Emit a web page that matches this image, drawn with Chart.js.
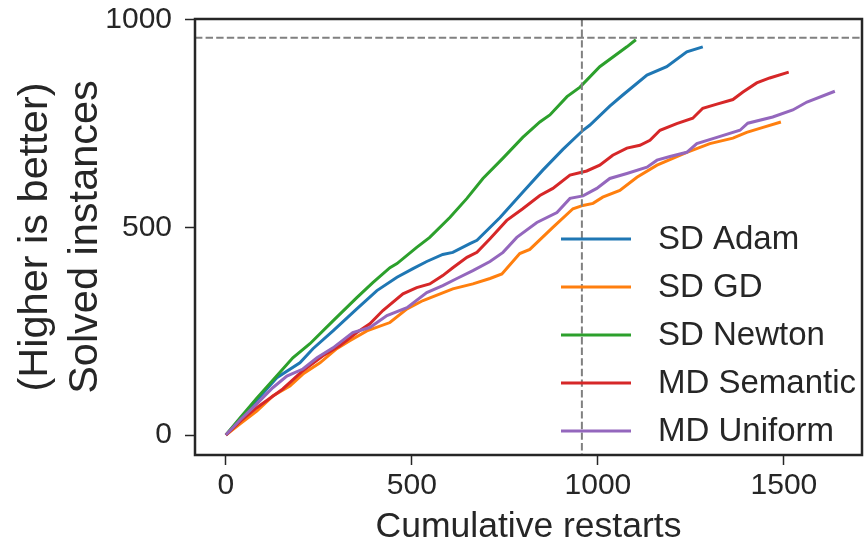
<!DOCTYPE html>
<html>
<head>
<meta charset="utf-8">
<script src="https://cdn.jsdelivr.net/npm/chart.js@4.4.1/dist/chart.umd.min.js"></script>
<style>
  html, body { margin: 0; padding: 0; background: #ffffff; }
  #c { display: block; }
</style>
</head>
<body>
<canvas id="c" width="866" height="545"></canvas>
<script>
// ---------------- data ----------------
const seriesLabels = ["SD Adam", "SD GD", "SD Newton", "MD Semantic", "MD Uniform"];
const seriesColors = ["#1f77b4", "#ff7f0e", "#2ca02c", "#d62728", "#9467bd"];

const adamX = [0, 40, 83, 137, 199, 234, 288, 352, 406, 460, 503, 540, 583, 610, 656, 675, 737, 798, 852, 906, 960, 978, 1032, 1067, 1132, 1185, 1239, 1282];
const adamY = [0, 40, 84, 138, 174, 208, 251, 304, 348, 380, 401, 418, 435, 440, 461, 469, 524, 585, 638, 688, 734, 746, 792, 819, 867, 887, 923, 935];

const gdX = [0, 40, 83, 126, 172, 207, 253, 298, 333, 379, 441, 487, 530, 610, 664, 710, 742, 790, 817, 879, 933, 960, 987, 1013, 1059, 1105, 1159, 1239, 1301, 1363, 1400, 1444, 1492];
const gdY = [0, 28, 58, 94, 118, 147, 174, 208, 227, 251, 271, 304, 324, 352, 364, 377, 388, 437, 447, 500, 545, 553, 558, 573, 589, 621, 650, 681, 702, 715, 729, 741, 754];

const newtonX = [0, 38, 83, 137, 180, 226, 288, 352, 395, 441, 460, 513, 548, 602, 648, 691, 745, 798, 844, 871, 917, 952, 1005, 1078, 1102];
const newtonY = [0, 41, 89, 143, 186, 220, 275, 331, 367, 403, 413, 452, 476, 524, 570, 618, 667, 717, 754, 771, 815, 838, 887, 935, 952];

const semanticX = [0, 40, 83, 153, 207, 261, 306, 352, 387, 422, 476, 513, 548, 583, 610, 648, 675, 710, 755, 798, 844, 879, 925, 970, 1005, 1040, 1078, 1113, 1140, 1167, 1212, 1255, 1282, 1320, 1363, 1390, 1427, 1462, 1513];
const semanticY = [0, 34, 66, 111, 155, 191, 215, 247, 268, 300, 340, 355, 364, 384, 403, 428, 440, 473, 517, 545, 577, 594, 626, 636, 650, 674, 691, 698, 710, 734, 750, 763, 787, 797, 808, 826, 848, 860, 874];

const uniformX = [0, 40, 83, 126, 164, 207, 245, 288, 341, 387, 433, 487, 540, 583, 621, 664, 710, 745, 782, 836, 890, 925, 960, 997, 1032, 1078, 1132, 1159, 1194, 1239, 1266, 1320, 1382, 1403, 1470, 1524, 1562, 1637];
const uniformY = [0, 38, 75, 114, 142, 159, 186, 210, 247, 259, 288, 307, 343, 360, 377, 396, 418, 440, 476, 512, 536, 570, 576, 594, 618, 630, 645, 662, 671, 681, 702, 717, 734, 751, 766, 783, 802, 828];

const xTicks = [0, 500, 1000, 1500];
const yTicks = [0, 500, 1000];
const refTotal = 957;           // dashed reference lines (x and y)
const xRange = [-83, 1710];
const yRange = [-48, 1002];

// ---------------- build ----------------
const FONT = "'Liberation Sans', Arial, 'DejaVu Sans', sans-serif";
const TXT = "#262626";
const allX = [adamX, gdX, newtonX, semanticX, uniformX];
const allY = [adamY, gdY, newtonY, semanticY, uniformY];

const datasets = seriesLabels.map((lab, i) => ({
  label: lab,
  data: allX[i].map((x, j) => ({ x: x, y: allY[i][j] })),
  borderColor: seriesColors[i],
  backgroundColor: seriesColors[i],
  borderWidth: 3,
  pointRadius: 0,
  tension: 0,
  fill: false,
  order: seriesLabels.length - i
}));

const decorPlugin = {
  id: 'decor',
  afterDatasetsDraw(chart) {
    const { ctx, chartArea: a, scales } = chart;
    ctx.save();
    // dashed reference lines
    ctx.strokeStyle = '#808080';
    ctx.lineWidth = 2;
    ctx.setLineDash([7.4, 3.2]);
    const yp = scales.y.getPixelForValue(refTotal);
    const xp = scales.x.getPixelForValue(refTotal);
    ctx.beginPath(); ctx.moveTo(a.left, yp); ctx.lineTo(a.right, yp); ctx.stroke();
    ctx.beginPath(); ctx.moveTo(xp, a.top); ctx.lineTo(xp, a.bottom); ctx.stroke();
    ctx.setLineDash([]);
    // frame
    ctx.strokeStyle = TXT;
    ctx.lineWidth = 2.5;
    ctx.strokeRect(a.left, a.top, a.right - a.left, a.bottom - a.top);
    // legend (lower right inside plot)
    const rowH = 48;
    const x0 = a.right - 301, x1 = a.right - 231, tx = a.right - 204;
    const yStart = a.bottom - 24 - rowH * (seriesLabels.length - 1);
    ctx.font = "33px " + FONT;
    ctx.textBaseline = 'middle';
    ctx.textAlign = 'left';
    seriesLabels.forEach((lab, i) => {
      const y = yStart + i * rowH;
      ctx.strokeStyle = seriesColors[i];
      ctx.lineWidth = 3;
      ctx.beginPath(); ctx.moveTo(x0, y); ctx.lineTo(x1, y); ctx.stroke();
      ctx.fillStyle = TXT;
      ctx.fillText(lab, tx, y + 1);
    });
    ctx.restore();
  }
};

const plain = v => String(v);

new Chart(document.getElementById('c').getContext('2d'), {
  type: 'line',
  data: { datasets },
  options: {
    responsive: false,
    animation: false,
    events: [],
    layout: { padding: { left: 0, right: 4, top: 19, bottom: 0 } },
    plugins: { legend: { display: false }, tooltip: { enabled: false } },
    scales: {
      x: {
        type: 'linear',
        min: xRange[0], max: xRange[1],
        afterFit: s => { s.height = 90; s.paddingLeft = 0; s.paddingRight = 0; },
        afterBuildTicks: s => { s.ticks = xTicks.map(v => ({ value: v })); },
        border: { display: false },
        grid: { drawOnChartArea: false, drawTicks: true, tickLength: 10, tickColor: TXT, tickWidth: 1.5 },
        ticks: { color: TXT, font: { family: FONT, size: 30 }, padding: 3, maxRotation: 0, autoSkip: false, callback: plain },
        title: { display: true, text: 'Cumulative restarts', color: TXT,
                 font: { family: FONT, size: 35.5, lineHeight: 1 }, padding: { top: 0, bottom: 0 } }
      },
      y: {
        type: 'linear',
        min: yRange[0], max: yRange[1],
        afterFit: s => { s.width = 195; s.paddingTop = 0; s.paddingBottom = 0; },
        afterBuildTicks: s => { s.ticks = yTicks.map(v => ({ value: v })); },
        border: { display: false },
        grid: { drawOnChartArea: false, drawTicks: true, tickLength: 10, tickColor: TXT, tickWidth: 1.5 },
        ticks: { color: TXT, font: { family: FONT, size: 30 }, padding: 13, autoSkip: false, callback: plain },
        title: { display: true, text: ['(Higher is better)', 'Solved instances'], color: TXT,
                 font: { family: FONT, size: 41.5, lineHeight: 1.2 }, padding: { top: 10.7, bottom: 0 } }
      }
    }
  },
  plugins: [decorPlugin]
});
</script>
</body>
</html>
